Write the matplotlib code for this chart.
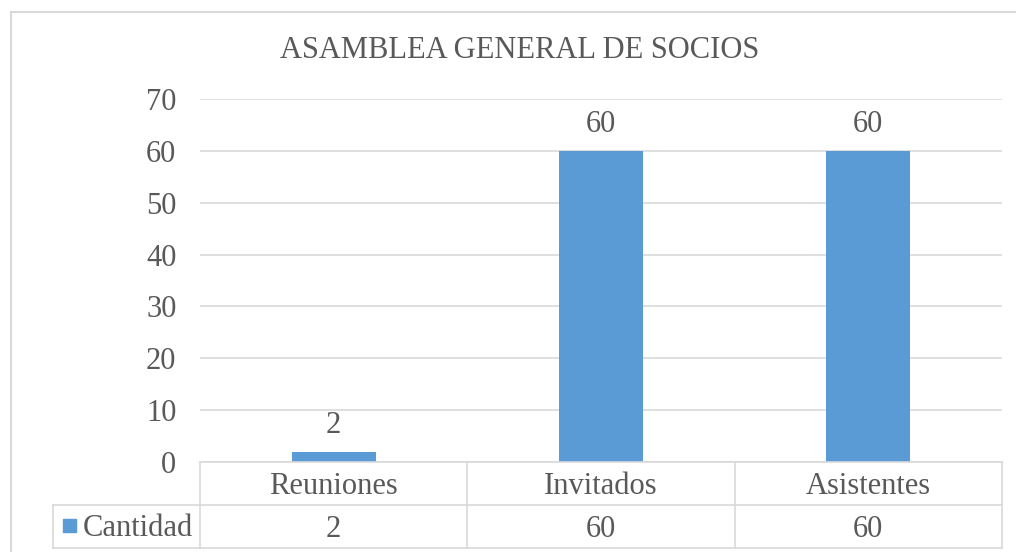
import matplotlib.pyplot as plt
from matplotlib.patches import Rectangle

categories = ['Reuniones', 'Invitados', 'Asistentes']
cantidad = [2, 60, 60]
series_name = 'Cantidad'
yticks = [0, 10, 20, 30, 40, 50, 60, 70]

BLUE = '#5B9BD5'
TXT = '#595959'
GRID = '#D9D9D9'
FS = 22

plt.rcParams['font.family'] = ['Liberation Serif', 'DejaVu Serif']

W, H = 1016, 552
fig = plt.figure(figsize=(W / 100, H / 100), dpi=100)

# axes area in pixels
L, R, T, B = 200, 1002, 99, 462
ax = fig.add_axes([L / W, (H - B) / H, (R - L) / W, (B - T) / H])

x = range(len(categories))
ax.bar(x, cantidad, width=0.315, color=BLUE, zorder=3)
for xi, v in zip(x, cantidad):
    ax.text(xi, v + 2.3, str(v), ha='center', va='bottom', fontsize=FS, color=TXT)

ax.set_xlim(-0.5, len(categories) - 0.5)
ax.set_ylim(0, 70)
ax.set_yticks(yticks)
ax.set_yticklabels([str(t) for t in yticks], fontsize=FS, color=TXT)
ax.tick_params(axis='y', length=0, pad=17)
ax.set_xticks([])
ax.grid(axis='y', color=GRID, linewidth=1.2, zorder=0)
for s in ['top', 'right', 'left', 'bottom']:
    ax.spines[s].set_visible(False)

fig.text(520 / W, (H - 51) / H, 'ASAMBLEA GENERAL DE SOCIOS',
         ha='center', va='center', fontsize=FS, color=TXT)

# data table under the axes
rh = 43 / (B - T)          # one table row in axes fraction
tr = ax.get_xaxis_transform()
lw = 1.2
ax.plot([-0.5, 2.5], [0, 0], transform=tr, color=GRID, lw=lw, clip_on=False, zorder=4)
x_left = -0.5 - (L - 53) / (R - L) * 3
for yy in [-rh, -2 * rh]:
    ax.plot([x_left, 2.5], [yy, yy], transform=tr, color=GRID, lw=lw, clip_on=False)
for xb in [-0.5, 0.5, 1.5, 2.5]:
    ax.plot([xb, xb], [0, -2 * rh], transform=tr, color=GRID, lw=lw, clip_on=False)
ax.plot([x_left, x_left], [-rh, -2 * rh], transform=tr, color=GRID, lw=lw, clip_on=False)

off = 3 / (B - T)
for xi, c, v in zip(x, categories, cantidad):
    ax.text(xi, -rh / 2 - off, c, transform=tr, ha='center', va='center', fontsize=FS, color=TXT)
    ax.text(xi, -1.5 * rh - off, str(v), transform=tr, ha='center', va='center', fontsize=FS, color=TXT)

# legend key + series name
fig.patches.append(Rectangle((63 / W, (H - 532) / H), 13 / W, 13 / H,
                             transform=fig.transFigure, color=BLUE))
fig.text(83 / W, (H - 528) / H, series_name, ha='left', va='center', fontsize=FS, color=TXT)

# chart border
fig.patches.append(Rectangle((11 / W, -0.02), 1.1, (H - 12) / H + 0.02,
                             transform=fig.transFigure, fill=False, edgecolor=GRID, lw=1.5))

fig.savefig('out.png', dpi=100)
